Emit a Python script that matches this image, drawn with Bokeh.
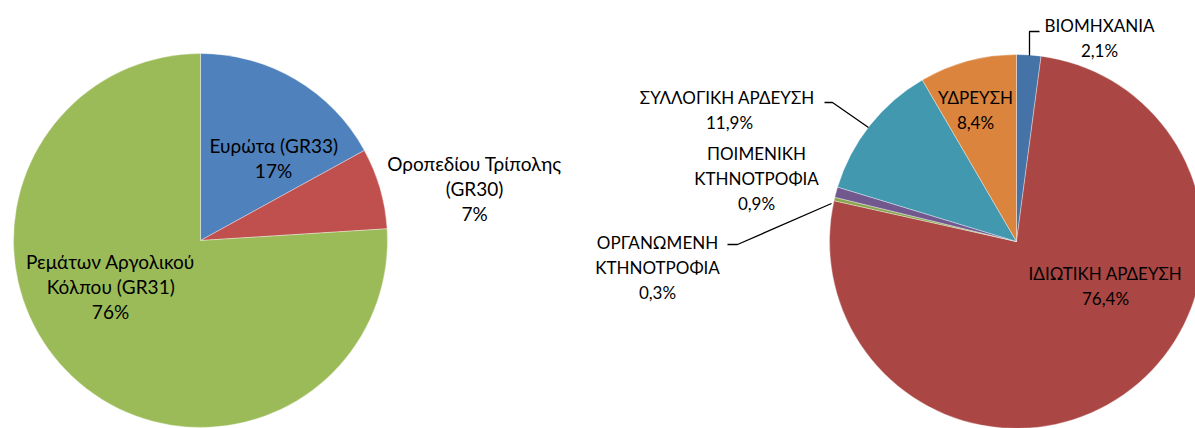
import math
from bokeh.plotting import figure
from bokeh.models import Range1d
from bokeh.embed import file_html
from bokeh.resources import INLINE
from bokeh.core.properties import value

# ---- data ----
left_names = ["Ευρώτα (GR33)", "Οροπεδίου Τρίπολης\n(GR30)", "Ρεμάτων Αργολικού\nΚόλπου (GR31)"]
left_values = [17, 7, 76]
left_colors = ["#4F81BD", "#C0504D", "#9BBB59"]

right_names = ["ΒΙΟΜΗΧΑΝΙΑ", "ΙΔΙΩΤΙΚΗ ΑΡΔΕΥΣΗ", "ΟΡΓΑΝΩΜΕΝΗ\nΚΤΗΝΟΤΡΟΦΙΑ",
               "ΠΟΙΜΕΝΙΚΗ\nΚΤΗΝΟΤΡΟΦΙΑ", "ΣΥΛΛΟΓΙΚΗ  ΑΡΔΕΥΣΗ", "ΥΔΡΕΥΣΗ"]
right_values = [2.1, 76.4, 0.3, 0.9, 11.9, 8.4]
right_colors = ["#4572A7", "#AA4643", "#89A54E", "#71588F", "#4198AF", "#DB843D"]

# ---- layout (image pixel coords, y down) ----
W, H = 1195, 428
left_center = (200, 240)
right_center = (1016, 241)
R = 187
left_label_pos = [(273, 145), (474, 163), (110, 261)]
right_label_pos = [(1099, 25), (1105, 273), (657, 242), (756, 153), (729, 97), (975, 97)]
LINE_H = 25
FONT = "Lato"

p = figure(width=W, height=H, output_backend="svg", toolbar_location=None,
           x_range=Range1d(0, W), y_range=Range1d(0, H), min_border=0)
p.axis.visible = False
p.grid.visible = False
p.outline_line_color = None
p.background_fill_color = "white"
p.border_fill_color = "white"


def Y(y):
    return H - y


def draw_pie(center, values, colors):
    total = sum(values)
    cum = 0.0
    xs, ys, sa, ea = [], [], [], []
    for v in values:
        a0 = math.pi / 2 - cum / total * 2 * math.pi
        cum += v
        a1 = math.pi / 2 - cum / total * 2 * math.pi
        sa.append(a0)
        ea.append(a1)
        xs.append(center[0])
        ys.append(Y(center[1]))
    p.wedge(x=xs, y=ys, radius=R, start_angle=sa, end_angle=ea, direction="clock",
            fill_color=colors, line_color="white", line_width=0.6, line_alpha=0.6)


def draw_labels(names, values, positions, fmt, fsize):
    for name, v, (cx, cy) in zip(names, values, positions):
        lines = name.split("\n") + [fmt(v)]
        for i, t in enumerate(lines):
            p.text(x=[cx], y=[Y(cy + i * LINE_H)], text=[t], text_align="center",
                   text_baseline="middle", text_font=value(FONT),
                   text_font_size=fsize, text_color="black")


draw_pie(left_center, left_values, left_colors)
draw_pie(right_center, right_values, right_colors)

draw_labels(left_names, left_values, left_label_pos, lambda v: f"{v:.0f}%", "19px")
draw_labels(right_names, right_values, right_label_pos,
            lambda v: f"{v:.1f}%".replace(".", ","), "17px")

# leader lines (layout)
leaders = [
    [(1029, 55), (1029, 31), (1039, 31)],
    [(824, 102), (832, 102), (868, 127)],
    [(727, 244), (737, 244), (831, 203)],
]
for pts in leaders:
    p.line(x=[a for a, b in pts], y=[Y(b) for a, b in pts], line_color="black", line_width=1.3)

open("out.html", "w").write(file_html(p, INLINE))
